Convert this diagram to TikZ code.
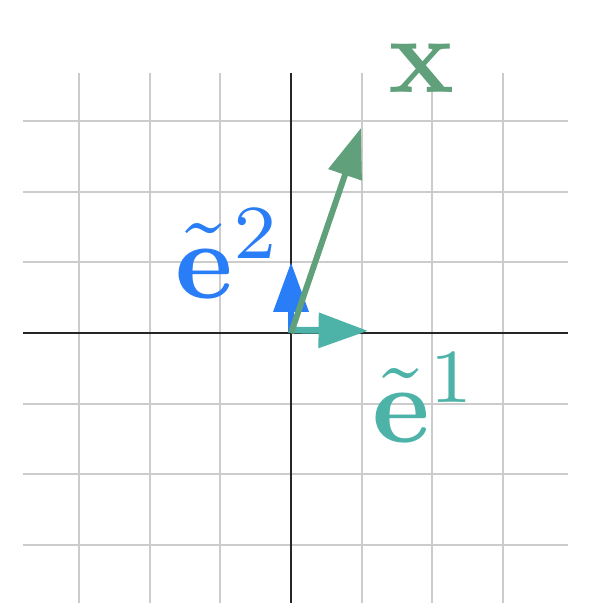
\documentclass[tikz,border=0pt]{standalone}
\usepackage{graphicx}
\usepackage{xcolor}
\usetikzlibrary{arrows.meta}

\definecolor{vecgreen}{RGB}{96,160,122}
\definecolor{vecteal}{RGB}{77,178,168}
\definecolor{vecblue}{RGB}{41,125,246}
\definecolor{gridgray}{RGB}{204,204,204}

\newcommand{\biglbl}[1]{\scalebox{4.4}{$#1$}}

\begin{document}
\begin{tikzpicture}[
  gridline/.style={draw=gridgray, line width=0.8pt},
  axis/.style={draw=black!85, line width=0.6pt},
  vec/.style={line width=2.7pt, -{Triangle[length=0.7cm, width=0.48cm]}},
  biglabel/.style={inner sep=0pt}
]
\useasboundingbox (-4.116,-3.946) rectangle (4.229,4.710);

\draw[gridline] (-3.79,-3.82) grid (3.92,3.68);
\draw[axis] (-3.79,0) -- (3.92,0);
\draw[axis] (0,-3.82) -- (0,3.68);

\coordinate (o) at (0,0);
\coordinate (e1tip) at (1.09,0.03);
\coordinate (e2tip) at (0,1.0);
\coordinate (xtip) at (0.99,2.9);

\draw[vec, vecblue] (o) -- (e2tip);
\draw[vec, vecteal] ([yshift=1.2pt]o) -- (e1tip);
\draw[vec, vecgreen, line width=2.4pt] (o) -- (xtip);

\node[biglabel, text=vecgreen] (xlabel) at (1.85,3.74) {\biglbl{\mathbf{x}}};
\node[biglabel, text=vecblue] (e2label) at (-0.88,1.12) {\biglbl{\tilde{\mathbf{e}}^2}};
\node[biglabel, text=vecteal] (e1label) at (1.9,-0.92) {\biglbl{\tilde{\mathbf{e}}^1}};
\end{tikzpicture}
\end{document}
